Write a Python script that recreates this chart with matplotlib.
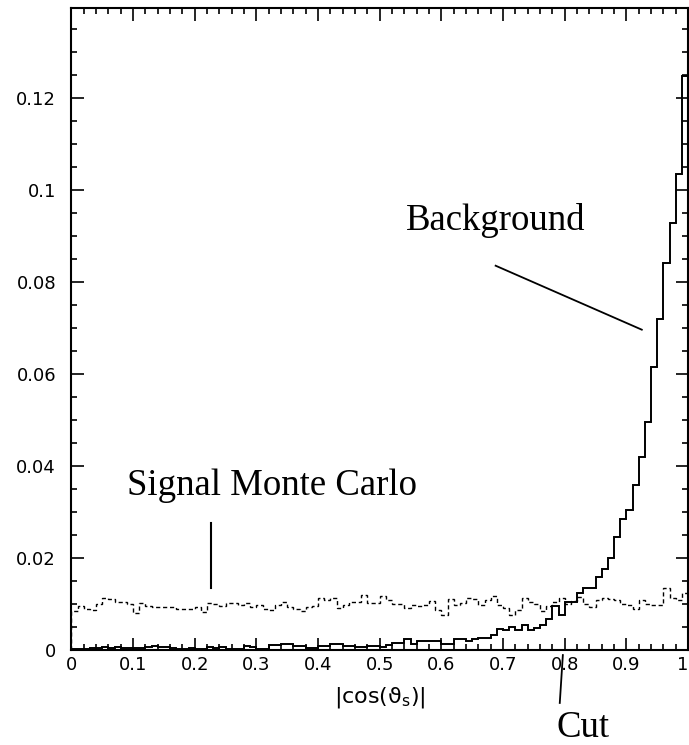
import numpy as np
import matplotlib
matplotlib.use("Agg")
import matplotlib.pyplot as plt
from matplotlib.ticker import MultipleLocator

# bin edges: 100 bins of |cos(theta_s)|
edges = np.linspace(0, 1, 101)

background = [
    0.0003, 0.0003, 0.0003, 0.0004, 0.0004, 0.0006, 0.0005, 0.0007, 0.0005, 0.0005,
    0.0005, 0.0004, 0.0007, 0.0009, 0.0006, 0.0007, 0.0005, 0.0003, 0.0003, 0.0004,
    0.0002, 0.0002, 0.0007, 0.0004,
    0.0007, 0.0002, 0.0002, 0.0002, 0.0009, 0.0006, 0.0002, 0.0002, 0.0011, 0.0011,
    0.0014, 0.0014, 0.0009, 0.0009, 0.0004, 0.0004, 0.0009, 0.0009, 0.0014, 0.0014,
    0.0009, 0.0009, 0.0006, 0.0006, 0.0009, 0.0009,
    0.0007, 0.0011, 0.0016, 0.0016, 0.0024, 0.0013, 0.0019, 0.0019, 0.0019, 0.0019,
    0.0014, 0.0014, 0.0024, 0.0024, 0.0020, 0.0023, 0.0027, 0.0027, 0.0033, 0.0046,
    0.0043, 0.0049, 0.0043, 0.0055,
    0.0043, 0.0048, 0.0054, 0.0067, 0.0095, 0.0076, 0.0104, 0.0104, 0.0123, 0.0135,
    0.0135, 0.0158, 0.0175, 0.0200, 0.0245, 0.0284, 0.0304, 0.0358, 0.0419, 0.0495,
    0.0614, 0.0720, 0.0840, 0.0927, 0.1035, 0.1248,
]

signal = [
    0.0085, 0.0095, 0.0090, 0.0088, 0.0100, 0.0113, 0.0110, 0.0104, 0.0104, 0.0100,
    0.0080, 0.0102, 0.0095, 0.0093, 0.0093, 0.0093, 0.0093, 0.0089, 0.0090, 0.0090,
    0.0093, 0.0082, 0.0103, 0.0100,
    0.0095, 0.0103, 0.0103, 0.0098, 0.0103, 0.0094, 0.0098, 0.0089, 0.0087, 0.0098,
    0.0105, 0.0094, 0.0089, 0.0085, 0.0094, 0.0095, 0.0113, 0.0108, 0.0113, 0.0092,
    0.0098, 0.0105, 0.0105, 0.0120, 0.0103,
    0.0103, 0.0118, 0.0108, 0.0101, 0.0100, 0.0091, 0.0098, 0.0095, 0.0098, 0.0106,
    0.0088, 0.0075, 0.0110, 0.0098, 0.0102, 0.0112, 0.0110, 0.0098, 0.0108, 0.0118,
    0.0098, 0.0092, 0.0075, 0.0087,
    0.0114, 0.0105, 0.0101, 0.0085, 0.0095, 0.0105, 0.0112, 0.0101, 0.0106, 0.0116,
    0.0101, 0.0094, 0.0108, 0.0112, 0.0110, 0.0108, 0.0101, 0.0098, 0.0090, 0.0108,
    0.0100, 0.0098, 0.0098, 0.0134, 0.0114, 0.0108, 0.0123,
]

x_ticks = [0, 0.1, 0.2, 0.3, 0.4, 0.5, 0.6, 0.7, 0.8, 0.9, 1]
x_labels = ["0", "0.1", "0.2", "0.3", "0.4", "0.5", "0.6", "0.7", "0.8", "0.9", "1"]
y_ticks = [0, 0.02, 0.04, 0.06, 0.08, 0.1, 0.12]
y_labels = ["0", "0.02", "0.04", "0.06", "0.08", "0.1", "0.12"]

fig = plt.figure(figsize=(6.89, 7.45), dpi=100)
ax = fig.add_axes([0.1036, 0.1275, 0.8950, 0.8618])

ax.stairs(background, edges, color="black", linewidth=1.4)
ax.stairs(signal, edges, color="black", linewidth=1.0, linestyle=(0, (3, 2)))

ax.set_xlim(0, 1)
ax.set_ylim(0, 0.1395)

ax.set_xticks(x_ticks)
ax.set_xticklabels(x_labels)
ax.set_yticks(y_ticks)
ax.set_yticklabels(y_labels)
ax.get_xticklabels()[-1].set_horizontalalignment("right")
ax.xaxis.set_minor_locator(MultipleLocator(0.02))
ax.yaxis.set_minor_locator(MultipleLocator(0.005))

ax.tick_params(which="both", direction="in", top=True, right=True,
               width=1.2, labelsize=13)
ax.tick_params(axis="x", pad=4)
ax.tick_params(axis="y", pad=11)
ax.tick_params(which="major", length=9)
ax.tick_params(which="minor", length=4.5)
for s in ax.spines.values():
    s.set_linewidth(1.5)

ax.set_xlabel("|cos(ϑ$_\\mathrm{s}$)|", fontsize=16, labelpad=8)

serif = "Liberation Serif"

# annotations
ax.text(0.542, 0.0913, "Background", fontsize=26.5, family=serif, va="baseline")
ax.plot([0.688, 0.925], [0.0835, 0.0696], color="black", linewidth=1.3)

ax.text(0.091, 0.0337, "Signal Monte Carlo", fontsize=26.5, family=serif, va="baseline")
ax.plot([0.226, 0.226], [0.0276, 0.0135], color="black", linewidth=1.5)

ax.text(0.786, -0.0189, "Cut", fontsize=26.5, family=serif, va="baseline", clip_on=False)
ax.plot([0.797, 0.792], [-0.0011, -0.0115], color="black", linewidth=1.3, clip_on=False)

fig.savefig("out.png", dpi=100)
